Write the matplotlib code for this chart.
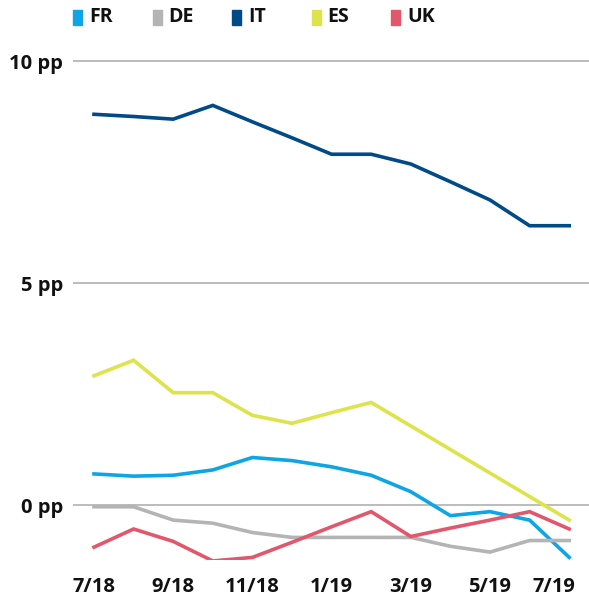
import matplotlib.pyplot as plt
import matplotlib.transforms as mtransforms
from matplotlib.patches import Rectangle

plt.rcParams['font.family'] = ['Open Sans', 'DejaVu Sans']
plt.rcParams['font.weight'] = 'bold'

# monthly values, 7/18 .. 7/19 (percentage points)
months = ['7/18', '8/18', '9/18', '10/18', '11/18', '12/18', '1/19',
          '2/19', '3/19', '4/19', '5/19', '6/19', '7/19']
fr = [0.70, 0.65, 0.67, 0.79, 1.07, 1.00, 0.86, 0.67, 0.30, -0.24, -0.15, -0.34, -1.18]
de = [-0.04, -0.04, -0.34, -0.41, -0.62, -0.73, -0.73, -0.73, -0.73, -0.93, -1.06, -0.80, -0.80]
it = [8.80, 8.75, 8.69, 9.00, 8.63, 8.27, 7.90, 7.90, 7.68, 7.28, 6.87, 6.29, 6.29]
es = [2.91, 3.26, 2.53, 2.53, 2.02, 1.84, 2.08, 2.31, 1.78, 1.25, 0.72, 0.19, -0.34]
uk = [-0.95, -0.54, -0.82, -1.26, -1.18, -0.84, -0.49, -0.15, -0.71, -0.52, -0.34, -0.15, -0.54]

names = ['FR', 'DE', 'IT', 'ES', 'UK']
series = [fr, de, it, es, uk]
colors = ['#0ea5e4', '#b4b4b4', '#004b87', '#dde34a', '#e2576b']

yticks = [0, 5, 10]
ylabels = ['0 pp', '5 pp', '10 pp']

W, H = 589, 598
fig = plt.figure(figsize=(W / 100, H / 100), dpi=100)
# axes spans pixel x 73..589, y 50..560
ax = fig.add_axes([73 / W, 1 - 560 / H, 1 - 73 / W, 510 / H])

x = list(range(len(months)))
for vals, c in zip(series, colors):
    ax.plot(x, vals, color=c, lw=2.6, solid_joinstyle='miter', zorder=3)

ax.set_xlim(-0.53, 12.5)
ax.set_ylim(-55 / 44.4, 455 / 44.4)
ax.set_yticks(yticks)
ax.set_yticklabels(ylabels)
ax.set_xticks(x[::2])
ax.set_xticklabels(months[::2])
ax.yaxis.grid(True, color='#aaaaaa', lw=1.1, zorder=1)
ax.tick_params(axis='both', length=0, labelsize=14.5, colors='#111111')
ax.tick_params(axis='y', pad=7)
ax.tick_params(axis='x', pad=12)
for s in ax.spines.values():
    s.set_visible(False)

# last date label sits a bit left so it stays inside the picture
last = ax.get_xticklabels()[-1]
last.set_transform(last.get_transform() + mtransforms.ScaledTranslation(-15 / 100, 0, fig.dpi_scale_trans))

# legend: tall coloured squares with labels
for i, (n, c) in enumerate(zip(names, colors)):
    lx = 73 + i * 79.5
    fig.add_artist(Rectangle((lx / W, 1 - 25 / H), 9 / W, 15 / H,
                             transform=fig.transFigure, color=c))
    fig.text((lx + 16) / W, 1 - 17 / H, n, fontsize=14, fontweight='bold',
             color='#111111', va='center', ha='left')

fig.savefig('out.png', dpi=100)
